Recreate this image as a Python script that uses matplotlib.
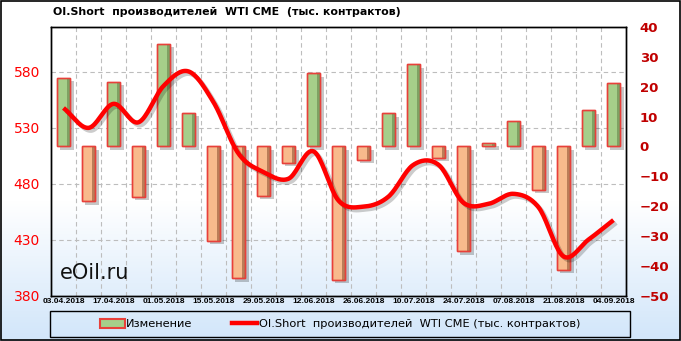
import numpy as np
import matplotlib
matplotlib.use('Agg')
import matplotlib.pyplot as plt
import matplotlib.patheffects as pe
from matplotlib.patches import Rectangle
from matplotlib.lines import Line2D

# weekly report dates (labels shown every second week)
dates = ['03.04.2018', '10.04.2018', '17.04.2018', '24.04.2018', '01.05.2018',
         '08.05.2018', '15.05.2018', '22.05.2018', '29.05.2018', '05.06.2018',
         '12.06.2018', '19.06.2018', '26.06.2018', '03.07.2018', '10.07.2018',
         '17.07.2018', '24.07.2018', '31.07.2018', '07.08.2018', '14.08.2018',
         '21.08.2018', '28.08.2018', '04.09.2018']

# weekly change, thousand contracts (right axis)
change = [23.1, -18.3, 21.7, -16.9, 34.4, 11.4, -31.7, -44.2, -16.6, -5.4,
          24.5, -44.7, -4.4, 11.1, 27.6, -3.7, -35.1, 1.3, 8.5, -14.5,
          -41.3, 12.2, 21.2]

# OI.Short of producers, thousand contracts (left axis)
oi_short = [547.8, 530.0, 551.5, 535.0, 567.5, 580.5, 553.0, 507.0, 490.5, 484.5,
            509.0, 465.0, 459.5, 468.5, 497.0, 497.0, 463.0, 462.0, 471.0, 459.0,
            415.0, 430.0, 447.5]

title = 'OI.Short  производителей  WTI CME  (тыс. контрактов)'
bar_label = 'Изменение'
line_label = 'OI.Short  производителей  WTI CME (тыс. контрактов)'


def catmull_rom(x, y, n=20):
    """smooth curve through the points, like the excel 'smoothed line'"""
    px = np.concatenate([[2 * x[0] - x[1]], x, [2 * x[-1] - x[-2]]])
    py = np.concatenate([[2 * y[0] - y[1]], y, [2 * y[-1] - y[-2]]])
    xs, ys = [], []
    t = np.linspace(0, 1, n, endpoint=False)
    for i in range(1, len(px) - 2):
        for p, out in ((px, xs), (py, ys)):
            p0, p1, p2, p3 = p[i - 1], p[i], p[i + 1], p[i + 2]
            out.extend(0.5 * ((2 * p1) + (-p0 + p2) * t
                              + (2 * p0 - 5 * p1 + 4 * p2 - p3) * t ** 2
                              + (-p0 + 3 * p1 - 3 * p2 + p3) * t ** 3))
    xs.append(x[-1])
    ys.append(y[-1])
    return np.array(xs), np.array(ys)


fig = plt.figure(figsize=(6.81, 3.41), dpi=100)

# background: white fading to light blue at the bottom
bg = fig.add_axes([0, 0, 1, 1], zorder=-10)
h = 341
ramp = np.clip((np.arange(h) - 200) / (h - 200), 0, 1)[:, None]
top = np.array([1.0, 1.0, 1.0])
bot = np.array([0.82, 0.90, 0.98])
grad = top + (bot - top) * ramp[..., None]
bg.imshow(np.repeat(grad, 10, axis=1), aspect='auto', extent=[0, 1, 0, 1])
bg.set_axis_off()
fig.add_artist(Rectangle((0.001, 0.002), 0.997, 0.995, transform=fig.transFigure,
                         fill=False, edgecolor='black', lw=1.2))

ax = fig.add_axes([0.0749, 0.1334, 0.8443, 0.7866])
ax.set_facecolor('none')
ax2 = ax.twinx()

x = np.arange(len(dates))
w = 0.53

# bars on the right axis
for xi, v in zip(x, change):
    face = '#A6CF8A' if v >= 0 else '#F8BA8C'
    dark = '#5F7D45' if v >= 0 else '#8A4B2E'
    ax2.bar(xi, v, width=w, color=face, edgecolor='#E8403A', linewidth=1.0, zorder=2,
            path_effects=[pe.SimplePatchShadow(offset=(2.5, -2.5), shadow_rgbFace='black',
                                               alpha=0.22), pe.Normal()])
    ax2.bar(xi + w * 0.36, v, width=w * 0.2, color=dark, alpha=0.55, linewidth=0, zorder=3)
    ax2.bar(xi, v, width=w, fill=False, edgecolor='#E8403A', linewidth=1.0, zorder=4)

ax2.set_ylim(-50, 40)
ax2.set_yticks(np.arange(-50, 41, 10))
ax2.tick_params(axis='y', length=0, pad=10, labelcolor='#C00000')
for t in ax2.get_yticklabels():
    t.set_fontweight('bold')
    t.set_fontsize(9.5)

# smoothed line on the left axis, drawn above the bars
sx, sy = catmull_rom(x.astype(float), np.array(oi_short))
ax3 = ax.twinx()
ax3.set_ylim(380, 620)
ax3.set_axis_off()
ax3.plot(sx, sy, color='#FF0000', lw=3.2, solid_capstyle='butt', zorder=5,
         path_effects=[pe.SimpleLineShadow(offset=(2, -2), alpha=0.2), pe.Normal()])

ax.set_ylim(380, 620)
ax.set_yticks([380, 430, 480, 530, 580])
ax.tick_params(axis='y', length=0, pad=8, labelcolor='#FF0000', labelsize=10)
ax.set_xlim(-0.5, len(dates) - 0.5)
for a in (ax2, ax3):
    a.set_xlim(-0.5, len(dates) - 0.5)

ax.set_xticks(x[::2])
ax.set_xticklabels(dates[::2], fontsize=6, fontweight='bold', family='Liberation Sans')
ax.tick_params(axis='x', length=0, pad=2)
ax.set_xticks(np.arange(0.5, len(dates) - 1, 1), minor=True)
ax.tick_params(axis='x', which='minor', length=0)
ax.grid(True, which='minor', axis='x', color='#BDBDBD', ls=(0, (4, 3)), lw=0.8)
ax.grid(True, which='major', axis='y', color='#BDBDBD', ls=(0, (4, 3)), lw=0.8)
for a in (ax, ax2):
    for s in a.spines.values():
        s.set_color('black')
        s.set_linewidth(1.0)

ax.text(0.015, 0.06, 'eOil.ru', transform=ax.transAxes, fontsize=15, color='#111111',
        zorder=6)

fig.text(53 / 681, 1 - 12 / 341, title, fontsize=7.9, fontweight='bold', va='center')

# legend box
fig.add_artist(Rectangle((50 / 681, 1 - 337 / 341), 580 / 681, 26 / 341,
                         transform=fig.transFigure, fill=False, edgecolor='black', lw=1.0))
handles = [Rectangle((0, 0), 1, 1, facecolor='#A6CF8A', edgecolor='#E8403A', lw=1.5),
           Line2D([], [], color='#FF0000', lw=3.2)]
fig.legend(handles, [bar_label, line_label], loc='center', ncol=2, frameon=False,
           bbox_to_anchor=(340 / 681, 1 - 324 / 341), fontsize=8.2, handlelength=2.2,
           handletextpad=0.1, columnspacing=3.5, handleheight=0.8)

fig.savefig('out.png', dpi=100)
